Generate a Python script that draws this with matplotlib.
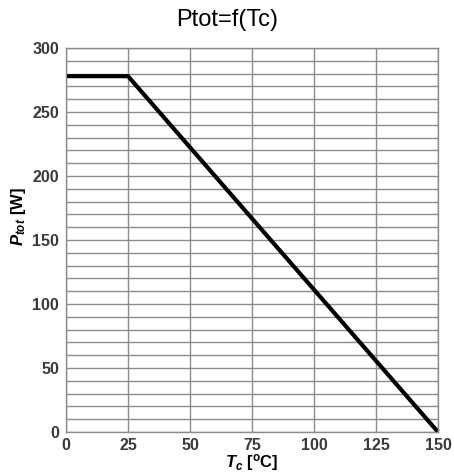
import numpy as np
from matplotlib import pyplot as plt

# derating curve
tc = [0, 25, 150]
ptot = [278, 278, 0]
x_ticks = [0, 25, 50, 75, 100, 125, 150]
y_ticks = [0, 50, 100, 150, 200, 250, 300]

plt.rcParams['font.family'] = 'Liberation Sans'
plt.rcParams['mathtext.fontset'] = 'custom'
plt.rcParams['mathtext.it'] = 'Liberation Sans:italic:bold'
plt.rcParams['mathtext.rm'] = 'Liberation Sans:bold'

fig = plt.figure(figsize=(4.54, 4.73), dpi=100)
ax = fig.add_axes([66/454, 1-432/473, (438-66)/454, (432-48)/473])

ax.set_xlim(0, 150)
ax.set_ylim(0, 300)
ax.set_xticks(x_ticks)
ax.set_yticks(y_ticks)
ax.set_yticks(np.arange(0, 301, 10), minor=True)
ax.grid(True, which='both', color='#8c8c8c', linewidth=1.0)
ax.tick_params(which='both', length=0)
ax.tick_params(axis='x', pad=4)
ax.tick_params(axis='y', pad=5)
for lab in ax.get_xticklabels() + ax.get_yticklabels():
    lab.set_fontsize(11.5)
    lab.set_fontweight('bold')
    lab.set_color('#3a3a3a')
for s in ax.spines.values():
    s.set_color('#8c8c8c')
    s.set_linewidth(1.0)

ax.plot(tc, ptot, color='black', linewidth=3, solid_capstyle='butt', clip_on=False)

ax.set_xlabel(r'$T_c$ [$^{\rm o}$C]', fontsize=12, fontweight='bold')
ax.set_ylabel(r'$P_{tot}$ [W]', fontsize=12, fontweight='bold')
ax.xaxis.set_label_coords(0.5, (432-462)/384, transform=ax.transAxes)
ax.xaxis.label.set_va('center')
ax.yaxis.set_label_coords((18-66)/372, 0.56, transform=ax.transAxes)
ax.yaxis.label.set_va('center')
fig.text(0.5, 1-20/473, 'Ptot=f(Tc)', ha='center', va='center', fontsize=17)

fig.savefig('out.png', dpi=100)
